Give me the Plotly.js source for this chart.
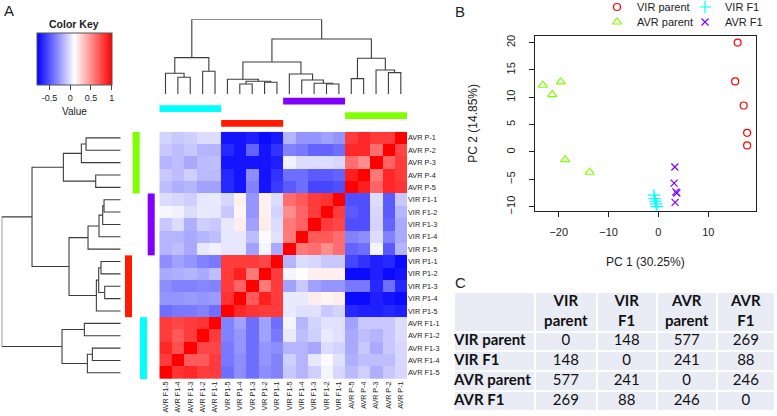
<!DOCTYPE html>
<html><head><meta charset="utf-8">
<script src="https://cdn.plot.ly/plotly-3.0.1.min.js"></script>
<style>html,body{margin:0;padding:0;background:#fff;} #chart{width:777px;height:416px;}</style>
</head><body><div id="chart"></div>
<script>
// ---------- DATA ----------
const colLabels = ['AVR F1-5','AVR F1-4','AVR F1-3','AVR F1-2','AVR F1-1',
  'VIR P1-5','VIR P1-4','VIR P1-3','VIR P1-2','VIR P1-1',
  'VIR F1-5','VIR F1-4','VIR F1-3','VIR F1-2','VIR F1-1',
  'AVR P-5','AVR P-4','AVR P-3','AVR P-2','AVR P-1'];
const rowLabels = ['AVR P-1','AVR P-2','AVR P-3','AVR P-4','AVR P-5',
  'VIR F1-1','VIR F1-2','VIR F1-3','VIR F1-4','VIR F1-5',
  'VIR P1-1','VIR P1-2','VIR P1-3','VIR P1-4','VIR P1-5',
  'AVR F1-1','AVR F1-2','AVR F1-3','AVR F1-4','AVR F1-5'];
const corr = [
 [-0.06,-0.10,-0.08,-0.03,-0.03,-0.74,-0.74,-0.70,-0.77,-0.72,-0.17,-0.28,-0.28,-0.24,-0.28,0.79,0.86,0.79,0.79,1.00],
 [-0.10,-0.14,-0.10,-0.17,-0.17,-0.67,-0.74,-0.46,-0.74,-0.63,-0.35,-0.38,-0.46,-0.46,-0.42,0.86,0.86,0.61,1.00,0.75],
 [-0.17,-0.14,-0.21,-0.15,-0.14,-0.74,-0.74,-0.74,-0.74,-0.70,0.04,-0.03,-0.03,-0.03,-0.05,0.61,0.50,1.00,0.65,0.79],
 [-0.10,-0.14,-0.08,-0.15,-0.15,-0.67,-0.74,-0.31,-0.74,-0.63,-0.42,-0.42,-0.49,-0.49,-0.46,0.89,1.00,0.57,0.86,0.79],
 [-0.14,-0.19,-0.17,-0.24,-0.24,-0.67,-0.74,-0.35,-0.74,-0.60,-0.49,-0.42,-0.56,-0.56,-0.53,1.00,0.89,0.65,0.86,0.82],
 [-0.03,-0.05,-0.08,0.01,0.02,-0.05,0.15,-0.28,0.15,-0.03,0.61,0.68,0.79,0.82,1.00,-0.53,-0.53,-0.03,-0.49,-0.10],
 [0.06,0.04,-0.03,0.02,0.01,-0.10,0.13,-0.28,0.15,-0.06,0.50,0.65,0.79,1.00,0.79,-0.49,-0.53,-0.05,-0.49,-0.17],
 [-0.10,-0.03,-0.19,-0.08,-0.10,0.01,0.16,-0.24,0.16,-0.03,0.57,0.65,1.00,0.79,0.75,-0.53,-0.53,-0.06,-0.46,-0.21],
 [-0.17,-0.17,-0.21,-0.17,-0.14,0.01,0.01,-0.14,0.08,-0.01,0.57,1.00,0.68,0.68,0.61,-0.35,-0.31,-0.03,-0.35,-0.21],
 [-0.17,-0.14,-0.21,0.01,0.04,0.01,0.01,-0.24,0.06,-0.21,1.00,0.57,0.61,0.50,0.61,-0.46,-0.42,0.06,-0.49,-0.17],
 [-0.31,-0.24,-0.28,-0.35,-0.38,0.79,0.79,0.79,0.75,1.00,-0.17,-0.03,-0.05,-0.10,-0.10,-0.56,-0.63,-0.70,-0.67,-0.77],
 [-0.21,-0.19,-0.17,-0.21,-0.14,0.79,0.89,0.57,1.00,0.79,0.06,0.10,0.15,0.15,0.15,-0.77,-0.77,-0.70,-0.77,-0.74],
 [-0.31,-0.35,-0.35,-0.33,-0.35,0.79,0.65,1.00,0.57,0.79,-0.24,-0.10,-0.24,-0.28,-0.28,-0.38,-0.38,-0.67,-0.42,-0.67],
 [-0.28,-0.28,-0.26,-0.28,-0.26,0.82,1.00,0.68,0.89,0.79,0.02,0.02,0.16,0.13,0.16,-0.77,-0.77,-0.70,-0.74,-0.77],
 [-0.42,-0.38,-0.38,-0.35,-0.42,1.00,0.86,0.82,0.79,0.79,0.02,-0.01,-0.01,-0.10,-0.06,-0.67,-0.70,-0.70,-0.67,-0.70],
 [0.79,0.75,0.79,0.82,1.00,-0.35,-0.24,-0.42,-0.24,-0.42,0.06,-0.17,-0.06,-0.01,-0.01,-0.24,-0.10,-0.10,-0.10,-0.03],
 [0.79,0.68,0.79,1.00,0.79,-0.35,-0.28,-0.42,-0.24,-0.38,0.02,-0.14,-0.08,0.02,-0.01,-0.21,-0.14,-0.17,-0.10,-0.03],
 [0.86,0.72,1.00,0.75,0.75,-0.38,-0.28,-0.42,-0.28,-0.31,-0.17,-0.17,-0.22,-0.03,-0.06,-0.21,-0.10,-0.21,-0.10,-0.05],
 [0.79,1.00,0.68,0.68,0.79,-0.38,-0.31,-0.42,-0.28,-0.35,-0.08,-0.17,0.01,0.08,-0.01,-0.19,-0.14,-0.14,-0.14,-0.05],
 [1.00,0.82,0.86,0.79,0.79,-0.42,-0.31,-0.42,-0.31,-0.35,-0.10,-0.17,-0.08,0.06,-0.05,-0.15,-0.08,-0.19,-0.10,-0.05]
];
const keyTicks = [-0.5, 0, 0.5, 1];
// dendrograms (hclust-style merges: negative = leaf at display position -k-1, positive = earlier merge)
const colMerge = [[-2,-3],[-1,1],[-4,-5],[2,3],[-7,-8],[-9,-10],[5,6],[-6,7],[-14,-15],[-13,9],[-12,10],[-11,11],[8,12],[-16,-17],[-19,-20],[-18,15],[14,16],[13,17],[4,18]];
const colHeight = [51,63,69,110,31,36,39,45,31,33,43,61,97,47,65,73,108,166,225];
const rowMerge = [[-1,-2],[1,-3],[-4,-5],[2,3],[-6,-7],[5,-8],[6,-9],[7,-10],[-11,-12],[-13,-14],[9,10],[11,-15],[8,12],[4,13],[-16,-17],[-18,-19],[16,-20],[15,17],[14,18]];
const rowHeight = [104,118,75,172,50,54,65,98,59,48,66,73,155,266,109,85,100,176,357];
// side colour groups
const colGroupColors = ['#00FFFF','#FF1A00','#8000FF','#80FF00'];
const rowGroupColors = ['#80FF00','#8000FF','#FF1A00','#00FFFF'];
// PCA
const pcaGroups = ['VIR parent','VIR F1','AVR parent','AVR F1'];
const virParentX = [15.9, 15.4, 17.1, 17.8, 17.8];
const virParentY = [20.0, 12.9, 8.5, 3.5, 1.2];
const virF1X = [-0.9, -0.75, -0.6, -0.45, -0.3];
const virF1Y = [-7.9, -8.5, -9.0, -9.5, -10.0];
const avrParentX = [-23.2, -21.3, -19.6, -18.7, -13.8];
const avrParentY = [12.2, 10.5, 12.8, -1.4, -3.7];
const avrF1X = [3.3, 3.15, 3.5, 3.7, 3.35];
const avrF1Y = [-2.75, -5.7, -7.3, -7.5, -9.2];
// Table
const tableColHeaders = ['VIR<br>parent','VIR<br>F1','AVR<br>parent','AVR<br>F1'];
const tableRowLabels = ['VIR parent','VIR F1','AVR parent','AVR F1'];
const tableValues = [[0,148,577,269],[148,0,241,88],[577,241,0,246],[269,88,246,0]];

// ---------- HELPERS ----------
const W = 777, H = 416;
const px = v => v / W;
const py = v => 1 - v / H;
const FONT = 'Liberation Sans, Arial, sans-serif';
const TFONT = 'Lato, sans-serif';

function dendro(merge, heights, vertical) {
  const pos = [], hts = [], xs = [], ys = [];
  const node = k => k < 0 ? {p: -k - 1, h: 0} : {p: pos[k - 1], h: hts[k - 1]};
  merge.forEach((m, i) => {
    const a = node(m[0]), b = node(m[1]), h = heights[i];
    const P = [a.p, a.p, b.p, b.p, null], Hh = [a.h, h, h, b.h, null];
    pos.push((a.p + b.p) / 2); hts.push(h);
    if (vertical) { xs.push(...P); ys.push(...Hh); } else { xs.push(...Hh); ys.push(...P); }
  });
  return {xs, ys};
}

const colD = dendro(colMerge, colHeight, true);
const rowD = dendro(rowMerge, rowHeight, false);

const heatX = [159.3, 407];
const heatY = [131.7, 379];

const traces = [];
traces.push({
  type: 'heatmap', z: corr, x: colLabels, y: rowLabels, xaxis: 'x', yaxis: 'y',
  colorscale: [[0, '#0000FF'], [0.5, '#FFFFFF'], [1, '#FF0000']], zmin: -0.81, zmax: 1,
  hoverinfo: 'skip',
  colorbar: {
    orientation: 'h', lenmode: 'pixels', len: 75, thicknessmode: 'pixels', thickness: 52,
    x: px(74.2), xanchor: 'center', y: py(33), yanchor: 'top', xpad: 0, ypad: 0,
    outlinewidth: 1, outlinecolor: '#555', tickvals: keyTicks, ticktext: keyTicks.map(String),
    ticks: 'outside', ticklen: 5, tickcolor: '#444', tickwidth: 1,
    tickfont: {size: 9, family: FONT, color: '#222'}, title: {text: ''}
  }
});
traces.push({type: 'scatter', mode: 'lines', x: colD.xs, y: colD.ys, xaxis: 'x2', yaxis: 'y2',
  line: {color: '#3c3c3c', width: 1.1}, showlegend: false, hoverinfo: 'skip', connectgaps: false});
traces.push({type: 'scatter', mode: 'lines', x: rowD.xs, y: rowD.ys, xaxis: 'x3', yaxis: 'y3',
  line: {color: '#3c3c3c', width: 1.1}, showlegend: false, hoverinfo: 'skip', connectgaps: false});

const pcaSets = [
  {name: pcaGroups[0], x: virParentX, y: virParentY, symbol: 'circle-open', color: '#FF0000', size: 7, legend: 'legend'},
  {name: pcaGroups[1], x: virF1X, y: virF1Y, symbol: 'cross-thin-open', color: '#00FFFF', size: 9, legend: 'legend2'},
  {name: pcaGroups[2], x: avrParentX, y: avrParentY, symbol: 'triangle-up-open', color: '#80FF00', size: 8, legend: 'legend3'},
  {name: pcaGroups[3], x: avrF1X, y: avrF1Y, symbol: 'x-thin-open', color: '#8000FF', size: 7, legend: 'legend4'}
];
pcaSets.forEach(s => traces.push({
  type: 'scatter', mode: 'markers', name: s.name, x: s.x, y: s.y, xaxis: 'x4', yaxis: 'y4', legend: s.legend,
  marker: {symbol: s.symbol, size: s.size, color: s.color, line: {color: s.color, width: 1.2}}, hoverinfo: 'skip'
}));

// ---------- TABLE (grid as a gapped heatmap, text through the same axes) ----------
const tColEdges = [0, 81, 142.7, 202.7, 262.7, 321];
const tRowEdges = [0, 40, 59, 79, 99, 119];
const mid = (e, i) => (e[i] + e[i + 1]) / 2;
const gridZ = tRowEdges.slice(1).map(() => tColEdges.slice(1).map(() => 0));
traces.push({type: 'heatmap', x: tColEdges, y: tRowEdges, z: gridZ, xaxis: 'x5', yaxis: 'y5',
  colorscale: [[0, '#E9EBF5'], [1, '#E9EBF5']], showscale: false, xgap: 2, ygap: 2, hoverinfo: 'skip'});
const b = s => '<b>' + s + '</b>';
const tfont = {family: TFONT, size: 15, color: '#111'};
traces.push({type: 'scatter', mode: 'text', xaxis: 'x5', yaxis: 'y5', showlegend: false, hoverinfo: 'skip',
  x: tableColHeaders.map((_, j) => mid(tColEdges, j + 1)), y: tableColHeaders.map(() => mid(tRowEdges, 0)),
  text: tableColHeaders.map(b), textposition: 'middle center', textfont: tfont});
traces.push({type: 'scatter', mode: 'text', xaxis: 'x5', yaxis: 'y5', showlegend: false, hoverinfo: 'skip',
  x: tableRowLabels.map(() => 0), y: tableRowLabels.map((_, i) => mid(tRowEdges, i + 1)),
  text: tableRowLabels.map(b), textposition: 'middle right', textfont: tfont});
const tvx = [], tvy = [], tvt = [];
tableValues.forEach((r, i) => r.forEach((v, j) => { tvx.push(mid(tColEdges, j + 1)); tvy.push(mid(tRowEdges, i + 1)); tvt.push(String(v)); }));
traces.push({type: 'scatter', mode: 'text', xaxis: 'x5', yaxis: 'y5', showlegend: false, hoverinfo: 'skip',
  x: tvx, y: tvy, text: tvt, textposition: 'middle center', textfont: tfont});

// side bars
const shapes = [];
const colBarTop = [105.3, 120, 97.7, 112.3];
const rowBarLeft = [132.7, 147.7, 125, 140];
colGroupColors.forEach((c, g) => shapes.push({type: 'rect', xref: 'x', yref: 'paper',
  x0: g * 5 - 0.5, x1: g * 5 + 4.5, y0: py(colBarTop[g] + 6.8), y1: py(colBarTop[g]),
  fillcolor: c, line: {width: 0}}));
rowGroupColors.forEach((c, g) => shapes.push({type: 'rect', xref: 'paper', yref: 'y',
  x0: px(rowBarLeft[g]), x1: px(rowBarLeft[g] + 7), y0: g * 5 - 0.5, y1: g * 5 + 4.5,
  fillcolor: c, line: {width: 0}}));

const hidden = {visible: false, showgrid: false, zeroline: false, fixedrange: true};
const pcaAxis = {showline: true, mirror: true, linecolor: '#222', linewidth: 1, ticks: 'outside', ticklen: 5,
  tickcolor: '#222', showgrid: false, zeroline: false, tickfont: {size: 11, family: FONT, color: '#222'}};
const legendBase = {orientation: 'v', xanchor: 'left', yanchor: 'middle', bgcolor: 'rgba(0,0,0,0)',
  font: {size: 11, family: FONT, color: '#222'}, itemwidth: 30, indentation: -15, tracegroupgap: 0};
const legCol = [612, 700], legRow = [7, 22];

const layout = {
  width: W, height: H, margin: {l: 0, r: 0, t: 0, b: 0, autoexpand: false},
  paper_bgcolor: '#fff', plot_bgcolor: 'rgba(0,0,0,0)', font: {family: FONT, color: '#222'},
  xaxis: {domain: [px(heatX[0]), px(heatX[1])], type: 'category', range: [-0.5, 19.5], anchor: 'y',
    showgrid: false, zeroline: false, ticks: '', tickangle: -90, tickfont: {size: 7.2, family: FONT, color: '#222'}},
  yaxis: {domain: [py(heatY[1]), py(heatY[0])], type: 'category', range: [19.5, -0.5], anchor: 'x', side: 'right',
    showgrid: false, zeroline: false, ticks: '', tickfont: {size: 7.3, family: FONT, color: '#222'}},
  xaxis2: Object.assign({domain: [px(heatX[0]), px(heatX[1])], range: [-0.5, 19.5], anchor: 'y2'}, hidden),
  yaxis2: Object.assign({domain: [py(94.3), py(19.3)], range: [0, 225], anchor: 'x2'}, hidden),
  xaxis3: Object.assign({domain: [px(1.7), px(120.7)], range: [357, 0], anchor: 'y3'}, hidden),
  yaxis3: Object.assign({domain: [py(heatY[1]), py(heatY[0])], range: [19.5, -0.5], anchor: 'x3'}, hidden),
  xaxis4: Object.assign({domain: [px(535), px(755.7)], range: [-24.76, 19.52], anchor: 'y4',
    tickvals: [-20, -10, 0, 10], ticklabelstandoff: 6,
    title: {text: 'PC 1 (30.25%)', font: {size: 12, family: FONT, color: '#222'}, standoff: 20}}, pcaAxis),
  yaxis4: Object.assign({domain: [py(210.7), py(36)], range: [-10.73, 21.2], anchor: 'x4',
    tickvals: [-10, -5, 0, 5, 10, 15, 20], tickangle: -90, ticklabelstandoff: 10,
    title: {text: 'PC 2 (14.85%)', font: {size: 12, family: FONT, color: '#222'}, standoff: 24}}, pcaAxis),
  xaxis5: Object.assign({domain: [px(454), px(775)], range: [0, 321], anchor: 'y5'}, hidden),
  yaxis5: Object.assign({domain: [py(411), py(292)], range: [119, 0], anchor: 'x5'}, hidden),
  legend: Object.assign({x: px(legCol[0]), y: py(legRow[0])}, legendBase),
  legend2: Object.assign({x: px(legCol[1]), y: py(legRow[0])}, legendBase),
  legend3: Object.assign({x: px(legCol[0]), y: py(legRow[1])}, legendBase),
  legend4: Object.assign({x: px(legCol[1]), y: py(legRow[1])}, legendBase),
  shapes: shapes,
  annotations: [
    {text: 'A', x: px(2), y: py(10), xref: 'paper', yref: 'paper', xanchor: 'left', yanchor: 'middle', showarrow: false, font: {size: 15, family: FONT, color: '#222'}},
    {text: 'B', x: px(453), y: py(11), xref: 'paper', yref: 'paper', xanchor: 'left', yanchor: 'middle', showarrow: false, font: {size: 15, family: FONT, color: '#222'}},
    {text: 'C', x: px(453), y: py(282), xref: 'paper', yref: 'paper', xanchor: 'left', yanchor: 'middle', showarrow: false, font: {size: 15, family: FONT, color: '#222'}},
    {text: '<b>Color Key</b>', x: px(74.2), y: py(24.5), xref: 'paper', yref: 'paper', xanchor: 'center', yanchor: 'middle', showarrow: false, font: {size: 10.5, family: FONT, color: '#222'}},
    {text: 'Value', x: px(74.2), y: py(112), xref: 'paper', yref: 'paper', xanchor: 'center', yanchor: 'middle', showarrow: false, font: {size: 10, family: FONT, color: '#222'}}
  ]
};

Plotly.newPlot('chart', traces, layout, {displayModeBar: false, staticPlot: true});
</script>
</body></html>
